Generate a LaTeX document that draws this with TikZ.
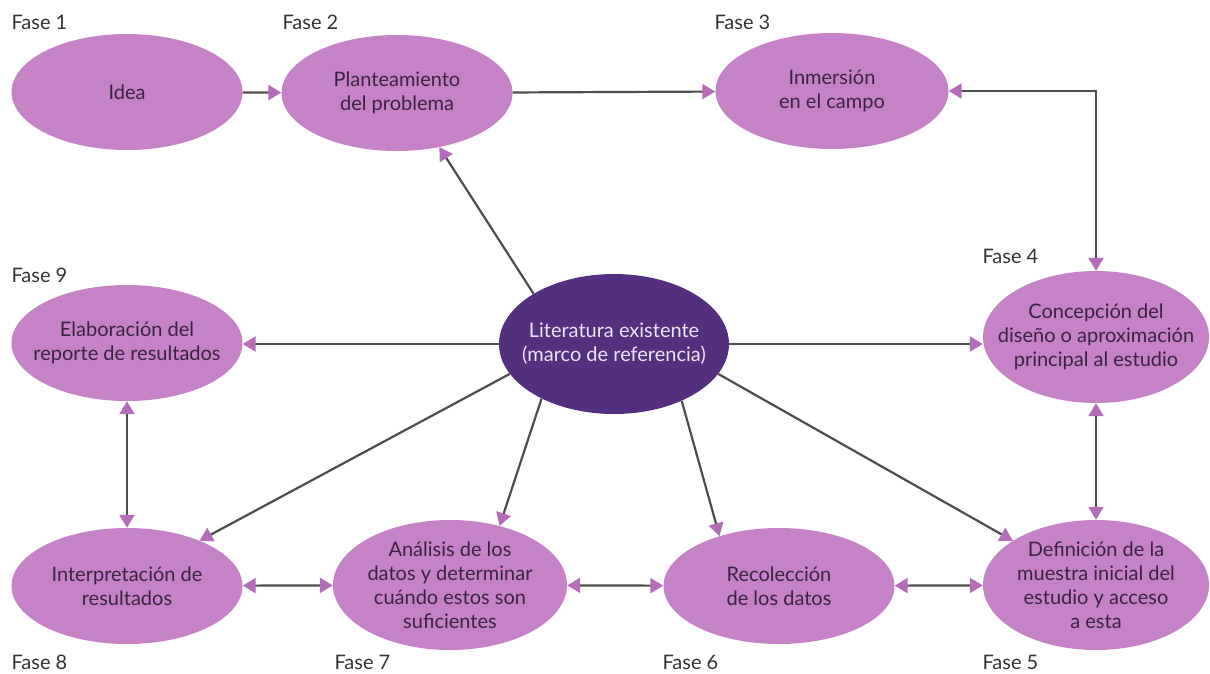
\documentclass[tikz,border=0pt]{standalone}
\usepackage{fontspec}
\setmainfont{Lato}
\usetikzlibrary{shapes.geometric,arrows.meta}
\definecolor{phasefill}{HTML}{C582C6}
\definecolor{corefill}{HTML}{52307F}
\definecolor{tipfill}{HTML}{B46DB8}
\definecolor{linecol}{HTML}{4D4D4D}
\definecolor{phasetext}{HTML}{3A2340}
\definecolor{coretext}{HTML}{EEE4F4}

\begin{document}
\begin{tikzpicture}[x=1pt, y=-1pt,
  phase/.style    = {ellipse, fill=phasefill, inner sep=0pt,
                     minimum width=231pt, minimum height=116pt},
  core/.style     = {phase, fill=corefill, minimum height=140pt},
  phasetxt/.style = {align=center, text=phasetext, font=\fontsize{20}{24}\selectfont},
  coretxt/.style  = {phasetxt, text=coretext},
  faselbl/.style  = {anchor=west, text=black!80, font=\fontsize{20}{24}\selectfont},
  ptip/.tip       = {Triangle[length=13pt, width=15pt, color=tipfill]},
  conn/.style     = {draw=linecol, line width=2.2pt, -ptip},
  conn2/.style    = {draw=linecol, line width=2.2pt, ptip-ptip}
]
\fill[white] (0,0) rectangle (1210,673);
\useasboundingbox (0,0) rectangle (1210,673);

% ---- top row: fases 1-3 ----
\node[phase, label={[phasetxt]center:Idea}] (idea) at (127,92) {};
\node[phase, label={[phasetxt]center:{Planteamiento\\del problema}}] (plan) at (397,93) {};
\node[phase, minimum width=233pt, label={[phasetxt]center:{Inmersión\\en el campo}}] (inm) at (832,91) {};

% ---- middle row: fase 9, literatura, fase 4 ----
\node[phase, label={[phasetxt]center:{Elaboración del\\reporte de resultados}}] (elab) at (127,343) {};
\node[core, minimum width=230pt, label={[coretxt]center:{Literatura existente\\(marco de referencia)}}] (lit) at (614,344) {};
\node[phase, minimum width=226pt, minimum height=132pt,
  label={[phasetxt]center:{Concepción del\\diseño o aproximación\\principal al estudio}}] (conc) at (1096,337) {};

% ---- bottom row: fases 8-5 ----
\node[phase, label={[phasetxt]center:{Interpretación de\\resultados}}] (interp) at (127,586) {};
\node[phase, minimum width=234pt, minimum height=130pt,
  label={[phasetxt]center:{Análisis de los\\datos y determinar\\cuándo estos son\\suficientes}}] (anal) at (450,585) {};
\node[phase, label={[phasetxt]center:{Recolección\\de los datos}}] (reco) at (779,586) {};
\node[phase, minimum width=226pt, minimum height=130pt,
  label={[phasetxt]center:{Definición de la\\muestra inicial del\\estudio y acceso\\a esta}}] (defi) at (1096,585) {};

% ---- fase labels ----
\node[faselbl] (f1) at (8,22) {Fase 1};
\node[faselbl] (f2) at (279,22) {Fase 2};
\node[faselbl] (f3) at (711,22) {Fase 3};
\node[faselbl] (f4) at (979,256) {Fase 4};
\node[faselbl] (f9) at (8,275) {Fase 9};
\node[faselbl] (f8) at (8,662) {Fase 8};
\node[faselbl] (f7) at (331,662) {Fase 7};
\node[faselbl] (f6) at (659,662) {Fase 6};
\node[faselbl] (f5) at (979,662) {Fase 5};

% ---- connectors ----
\draw[conn] (idea) -- (plan);
\draw[conn] (plan) -- (inm);
\draw[conn2] (inm.east) -| (conc.north);
\draw[conn] (lit.148) -- (plan.308);
\draw[conn] (lit.west) -- (lit.west -| elab.east);
\draw[conn] (lit.east) -- (lit.east -| conc.west);
\draw[conn] (lit.196) -- (interp.32);
\draw[conn] (lit.217) -- (anal.50);
\draw[conn] (lit.320) -- (reco.140);
\draw[conn] (lit.344) -- (defi.152);
\draw[conn2] (elab) -- (interp);
\draw[conn2] (conc) -- (defi);
\draw[conn2] (interp) -- (anal);
\draw[conn2] (anal) -- (reco);
\draw[conn2] (reco) -- (defi);

\end{tikzpicture}
\end{document}
